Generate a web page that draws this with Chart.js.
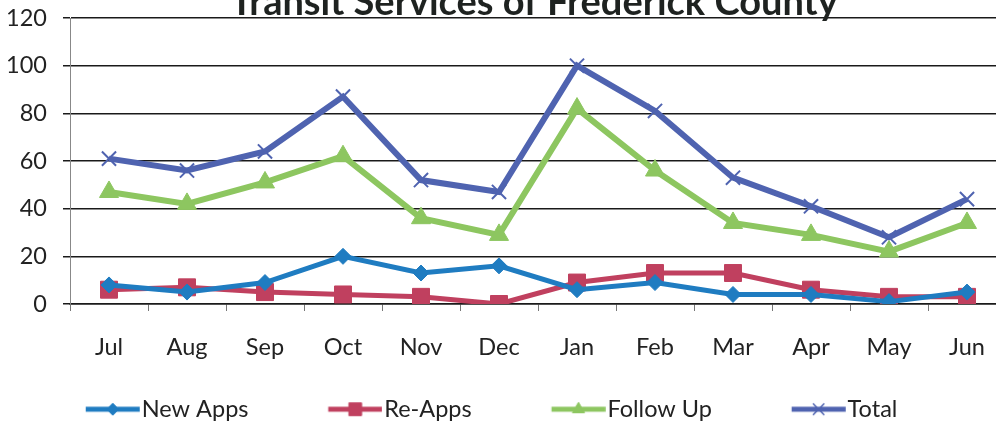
<!DOCTYPE html>
<html>
<head>
<meta charset="utf-8">
<script src="https://cdn.jsdelivr.net/npm/chart.js@4/dist/chart.umd.min.js"></script>
<style>
  html, body { margin: 0; padding: 0; background: #fff; overflow: hidden; }
  #wrap { position: relative; width: 1006px; height: 431px; }
</style>
</head>
<body>
<div id="wrap"><canvas id="transitChart" width="1006" height="431"></canvas></div>
<script>
const chart_title = "Transit Services of Frederick County"
const months = ['Jul', 'Aug', 'Sep', 'Oct', 'Nov', 'Dec', 'Jan', 'Feb', 'Mar', 'Apr', 'May', 'Jun']
const new_apps = [8, 5, 9, 20, 13, 16, 6, 9, 4, 4, 1, 5]
const re_apps = [6, 7, 5, 4, 3, 0, 9, 13, 13, 6, 3, 3]
const follow_up = [47, 42, 51, 62, 36, 29, 82, 56, 34, 29, 22, 34]
const total = [61, 56, 64, 87, 52, 47, 100, 81, 53, 41, 28, 44]
const y_ticks = [0, 20, 40, 60, 80, 100, 120]

const font_family = "Lato, 'Open Sans', sans-serif"
const text_col = '#222'
const font_size = 23.5

// legend symbol: line + marker, drawn on the right side of a wider image
// so the empty left part works as the gap between legend entries
const box_w = 94
function legend_icon(color, style, radius, bw) {
    const c = document.createElement('canvas')
    c.width = box_w + 20
    c.height = 22
    const g = c.getContext('2d')
    const x1 = box_w + 19.75
    const x0 = x1 - 54
    g.strokeStyle = color
    g.lineWidth = 5
    g.beginPath()
    g.moveTo(x0, 11)
    g.lineTo(x1, 11)
    g.stroke()
    g.fillStyle = color
    g.lineWidth = bw
    Chart.helpers.drawPoint(g, {pointStyle: style, radius: radius, borderWidth: bw, rotation: 0}, (x0 + x1) / 2, 11)
    return c
}

const icons = [
    legend_icon('#1f7cc1', 'rectRot', 6, 1),
    legend_icon('#c0405f', 'rect', 9, 1),
    legend_icon('#8dc660', 'triangle', 7, 1),
    legend_icon('#4f63b0', 'crossRot', 8, 1.5),
]

// title sits half outside the top edge, like in the scan
const titlePlugin = {
    id: 'cutTitle',
    afterDraw(chart) {
        const ctx = chart.ctx
        ctx.save()
        ctx.font = "bold 38px " + font_family
        ctx.fillStyle = '#1e2220'
        ctx.textAlign = 'center'
        ctx.textBaseline = 'alphabetic'
        ctx.fillText(chart_title, 534, 15)
        ctx.restore()
    }
}

const ctx = document.getElementById('transitChart')

new Chart(ctx, {
    type: 'line',
    data: {
        labels: months,
        datasets: [
            {
                label: 'New Apps',
                data: new_apps,
                borderColor: '#1f7cc1',
                backgroundColor: '#1f7cc1',
                borderWidth: 5,
                pointStyle: 'rectRot',
                pointRadius: 8,
                pointBorderWidth: 1,
            },
            {
                label: 'Re-Apps',
                data: re_apps,
                borderColor: '#c0405f',
                backgroundColor: '#c0405f',
                borderWidth: 5,
                pointStyle: 'rect',
                pointRadius: 12,
                pointBorderWidth: 1,
            },
            {
                label: 'Follow Up',
                data: follow_up,
                borderColor: '#8dc660',
                backgroundColor: '#8dc660',
                borderWidth: 6,
                pointStyle: 'triangle',
                pointRadius: 11,
                pointBorderWidth: 1,
            },
            {
                label: 'Total',
                data: total,
                borderColor: '#4f63b0',
                backgroundColor: '#4f63b0',
                borderWidth: 6,
                pointStyle: 'crossRot',
                pointRadius: 10,
                pointBorderWidth: 2,
            },
        ]
    },
    options: {
        responsive: false,
        animation: false,
        layout: {
            autoPadding: false,
            padding: {top: 18, left: 6, right: 0, bottom: 0}
        },
        scales: {
            x: {
                offset: true,
                grid: {
                    offset: true,
                    drawOnChartArea: false,
                    color: '#777',
                    lineWidth: 1,
                    tickLength: 7,
                },
                border: {color: '#1a1a1a', width: 1.5},
                ticks: {
                    padding: 22,
                    color: text_col,
                    font: {family: font_family, size: font_size},
                },
                afterFit: function(s) {
                    s.height = 63.5
                    s.paddingLeft = 0
                    s.paddingRight = 0
                }
            },
            y: {
                min: 0,
                max: 120,
                afterBuildTicks: function(s) { s.ticks = y_ticks.map(v => ({value: v})) },
                grid: {
                    color: '#1a1a1a',
                    lineWidth: 1.5,
                    tickLength: 7,
                },
                border: {color: '#888', width: 1},
                ticks: {
                    padding: 16,
                    color: text_col,
                    font: {family: font_family, size: font_size},
                },
                afterFit: function(s) {
                    s.width = 64
                    s.paddingTop = 0
                    s.paddingBottom = 0
                }
            }
        },
        plugins: {
            title: {display: false},
            tooltip: {enabled: false},
            legend: {
                position: 'bottom',
                align: 'start',
                labels: {
                    usePointStyle: true,
                    pointStyleWidth: box_w,
                    padding: 30,
                    color: text_col,
                    font: {family: font_family, size: font_size},
                    generateLabels: function(chart) {
                        const items = Chart.defaults.plugins.legend.labels.generateLabels(chart)
                        items.forEach((it, i) => { it.pointStyle = icons[i] })
                        return items
                    }
                }
            }
        }
    },
    plugins: [titlePlugin]
});
</script>
</body>
</html>
